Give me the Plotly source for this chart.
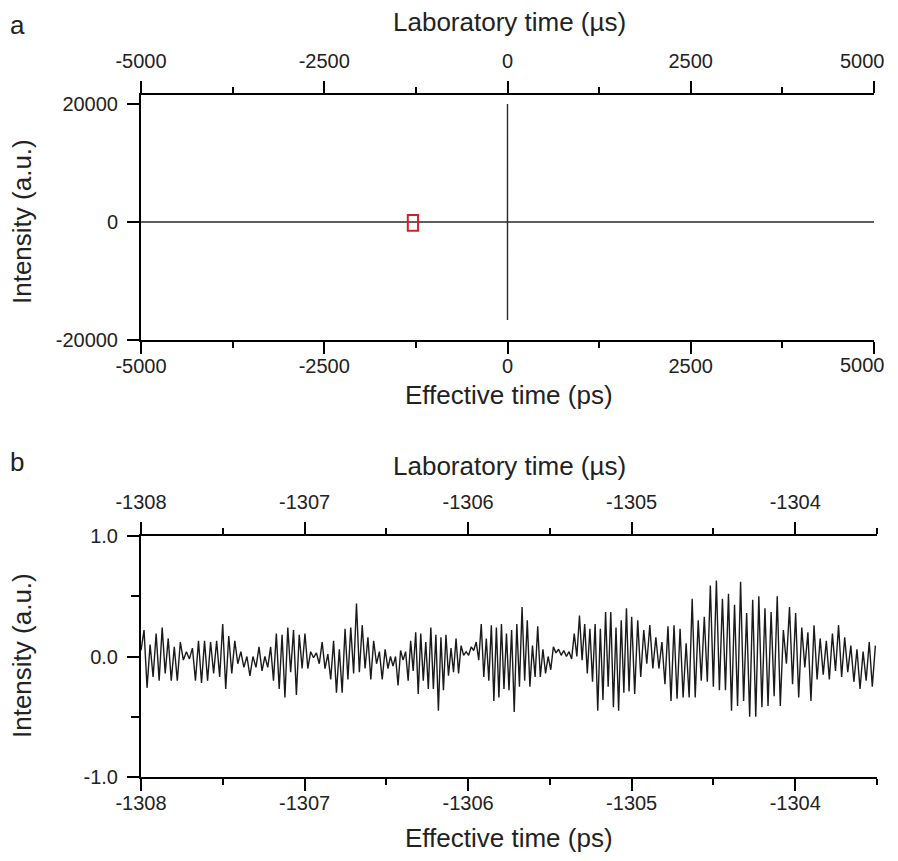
import numpy as np
import plotly.graph_objects as go

# ---------------- Panel a data ----------------
a_time_ps = [-5000, -0.5, -0.2, 0, 0.2, 5000]
a_intensity = [0, 0, 20000, -16600, 0, 0]
zoom_box_x = [-1360, -1220]
zoom_box_y = [-1500, 1200]

a_ticks = [-5000, -2500, 0, 2500, 5000]
a_ticklabels = ["-5000", "-2500", "0", "2500", "5000"]
a_yticks = [-20000, 0, 20000]
a_yticklabels = ["-20000", "0", "20000"]

# ---------------- Panel b data (extrema, per segment) ----------------
seg_bounds = [-1308.0, -1307.26, -1306.49, -1305.75, -1305.0, -1304.26, -1303.51]
seg1 = [0.05, 0.22, -0.26, 0.10, -0.17, 0.19, -0.20, 0.24, -0.14, 0.15, -0.20, 0.08, -0.20, 0.12,
        -0.03, 0.04, -0.02, 0.07, -0.20, 0.13, -0.22, 0.13, -0.20, 0.12, -0.14, 0.13, -0.17, 0.27,
        -0.27, 0.17, -0.14, 0.13, -0.06, 0.04, -0.09, 0.0, -0.16, 0.0, -0.09, 0.08]
seg2 = [-0.12, 0.00, -0.09, 0.08, -0.20, 0.19, -0.27, 0.18, -0.34, 0.24, -0.13, 0.22, -0.32, 0.18,
        -0.10, 0.19, -0.10, 0.04, -0.01, 0.03, -0.06, 0.12, -0.10, 0.02, -0.19, 0.13, -0.30, 0.06,
        -0.30, 0.23, -0.19, 0.24, -0.14, 0.44, -0.13, 0.26, -0.10, 0.16, -0.19, 0.13, -0.06, 0.04,
        -0.19, 0.06]
seg3 = [-0.10, 0.0, -0.08, 0.0, -0.24, 0.05, -0.03, 0.04, -0.20, 0.13, -0.12, 0.20, -0.31, 0.19,
        -0.20, 0.12, -0.27, 0.24, -0.27, 0.18, -0.45, 0.16, -0.28, 0.18, -0.16, 0.07, -0.13, 0.15,
        -0.14, 0.09, 0.01, 0.04, 0.01, 0.08, 0.05, 0.12, -0.03, 0.27, -0.17, 0.15, -0.20, 0.26,
        -0.37, 0.24, -0.34, 0.27, -0.27, 0.19]
seg4 = [-0.28, 0.22, -0.46, 0.27, -0.25, 0.41, -0.20, 0.30, -0.25, 0.09, -0.17, 0.25, -0.17, 0.06,
        -0.14, 0.0, -0.11, 0.08, 0.03, 0.06, 0.01, 0.05, 0.0, 0.04, -0.02, 0.19, 0.0, 0.34, -0.03,
        0.27, -0.14, 0.23, -0.21, 0.27, -0.45, 0.23, -0.36, 0.37, -0.25, 0.37, -0.42, 0.24, -0.45,
        0.30, -0.30, 0.40, -0.29]
seg5 = [0.33, -0.31, 0.30, -0.17, 0.22, -0.06, 0.26, -0.10, 0.16, -0.10, 0.12, -0.23, 0.25, -0.37,
        0.26, -0.35, 0.23, -0.34, 0.11, -0.34, 0.48, -0.34, 0.30, -0.20, 0.33, -0.21, 0.59, -0.25,
        0.63, -0.28, 0.48, -0.28, 0.52, -0.45, 0.43, -0.41, 0.62, -0.37, 0.36, -0.50]
seg6 = [0.47, -0.50, 0.50, -0.42, 0.40, -0.41, 0.37, -0.33, 0.50, -0.41, 0.22, -0.06, 0.41, -0.23,
        0.36, -0.34, 0.24, -0.09, 0.20, -0.37, 0.26, -0.19, 0.15, -0.15, 0.13, -0.19, 0.19, -0.12,
        0.26, -0.17, 0.16, -0.13, 0.09, -0.21, 0.06, -0.27, 0.04, -0.20, 0.12, -0.25, 0.09]
segments = [seg1, seg2, seg3, seg4, seg5, seg6]

b_ticks = [-1308, -1307, -1306, -1305, -1304]
b_ticklabels = ["-1308", "-1307", "-1306", "-1305", "-1304"]
b_yticks = [-1.0, 0.0, 1.0]
b_yticklabels = ["-1.0", "0.0", "1.0"]

b_time = []
b_intensity = []
for i, seg in enumerate(segments):
    t = np.linspace(seg_bounds[i], seg_bounds[i + 1], len(seg), endpoint=(i == len(segments) - 1))
    b_time.extend(t.tolist())
    b_intensity.extend(seg)

FONT = "Liberation Sans, Arial, sans-serif"
PAGE_OFFSET = 8  # default body margin of the written html page
W, H = 898 - PAGE_OFFSET, 861 - 2 * PAGE_OFFSET

def px_x(p):
    return (p - PAGE_OFFSET) / W

def px_y(p):
    return 1 - (p - PAGE_OFFSET) / H

fig = go.Figure()
fig.add_trace(go.Scatter(x=a_time_ps, y=a_intensity, mode="lines",
                         line=dict(color="#2a2a2a", width=1.4), xaxis="x", yaxis="y",
                         showlegend=False, hoverinfo="skip"))
fig.add_trace(go.Scatter(x=b_time, y=b_intensity, mode="lines",
                         line=dict(color="#1a1a1a", width=1.4), xaxis="x2", yaxis="y2",
                         showlegend=False, hoverinfo="skip"))
# carrier traces so the top (laboratory-time) axes are drawn
fig.add_trace(go.Scatter(x=[a_ticks[0], a_ticks[-1]], y=[None, None], mode="lines",
                         xaxis="x3", yaxis="y", showlegend=False, hoverinfo="skip"))
fig.add_trace(go.Scatter(x=[b_ticks[0], b_ticks[-1]], y=[None, None], mode="lines",
                         xaxis="x4", yaxis="y2", showlegend=False, hoverinfo="skip"))

TICK_FONT = dict(family=FONT, size=20, color="#222")
axis_common = dict(showgrid=False, zeroline=False, showline=True, linecolor="black", linewidth=2,
                   ticks="outside", ticklen=12, tickwidth=2, tickcolor="black", automargin=False,
                   tickfont=TICK_FONT)

dom_ax = [px_x(141), px_x(874)]
dom_bx = [px_x(141), px_x(877)]
dom_ay = [px_y(340), px_y(95)]
dom_by = [px_y(777), px_y(536)]

minor_a = dict(ticks="outside", ticklen=6, tickwidth=2, tickcolor="black", dtick=1250, tick0=-5000)
minor_b = dict(ticks="outside", ticklen=6, tickwidth=2, tickcolor="black", dtick=0.5, tick0=-1308)

# the last label of panel a sits at the page edge; it is drawn as an edge-aligned text below
a_axis_text = a_ticklabels[:-1] + [""]

fig.update_layout(
    width=W, height=H, margin=dict(l=0, r=0, t=0, b=0, autoexpand=False),
    paper_bgcolor="white", plot_bgcolor="white",
    xaxis=dict(axis_common, domain=dom_ax, range=[-5000, 5000], tickvals=a_ticks,
               ticktext=a_axis_text, anchor="y", minor=minor_a, ticklabelstandoff=-5),
    xaxis3=dict(axis_common, domain=dom_ax, range=[-5000, 5000], tickvals=a_ticks,
                ticktext=a_axis_text, anchor="y", overlaying="x", side="top", minor=minor_a,
                ticklabelstandoff=5),
    yaxis=dict(axis_common, domain=dom_ay, range=[-20000, 21525], tickvals=a_yticks,
               ticktext=a_yticklabels, anchor="x", ticklabelstandoff=5),
    xaxis2=dict(axis_common, domain=dom_bx, range=[-1308, -1303.5], tickvals=b_ticks,
                ticktext=b_ticklabels, anchor="y2", minor=minor_b, ticklabelstandoff=-5),
    xaxis4=dict(axis_common, domain=dom_bx, range=[-1308, -1303.5], tickvals=b_ticks,
                ticktext=b_ticklabels, anchor="y2", overlaying="x2", side="top", minor=minor_b,
                ticklabelstandoff=5),
    yaxis2=dict(axis_common, domain=dom_by, range=[-1, 1], tickvals=b_yticks,
                ticktext=b_yticklabels, anchor="x2", ticklabelstandoff=5,
                minor=dict(ticks="outside", ticklen=8, tickwidth=2, tickcolor="black", dtick=0.5, tick0=-1)),
)

fig.add_shape(type="rect", xref="x", yref="y", x0=zoom_box_x[0], x1=zoom_box_x[1],
              y0=zoom_box_y[0], y1=zoom_box_y[1], line=dict(color="#d62020", width=2),
              fillcolor="rgba(0,0,0,0)")

# edge labels for the 5000 ticks (bottom and top axes of panel a)
for ypx in (365, 61):
    fig.add_annotation(xref="paper", yref="paper", showarrow=False, xanchor="right",
                       yanchor="middle", x=px_x(887), y=px_y(ypx), text=a_ticklabels[-1],
                       font=TICK_FONT)

title_font = dict(family=FONT, size=26, color="#222")
annots = [
    dict(text="a", x=px_x(17), y=1.0, yanchor="top"),
    dict(text="b", x=px_x(17), y=px_y(462), yanchor="middle"),
    dict(text="Laboratory time (µs)", x=px_x(509), y=px_y(22), yanchor="middle"),
    dict(text="Effective time (ps)", x=px_x(509), y=px_y(395), yanchor="middle"),
    dict(text="Intensity (a.u.)", x=px_x(22), y=px_y(222), yanchor="middle", textangle=-90),
    dict(text="Laboratory time (µs)", x=px_x(509), y=px_y(466), yanchor="middle"),
    dict(text="Effective time (ps)", x=px_x(509), y=px_y(838), yanchor="middle"),
    dict(text="Intensity (a.u.)", x=px_x(22), y=px_y(656), yanchor="middle", textangle=-90),
]
for a in annots:
    fig.add_annotation(xref="paper", yref="paper", showarrow=False, xanchor="center",
                       font=title_font, **a)

fig.write_html("out.html")
